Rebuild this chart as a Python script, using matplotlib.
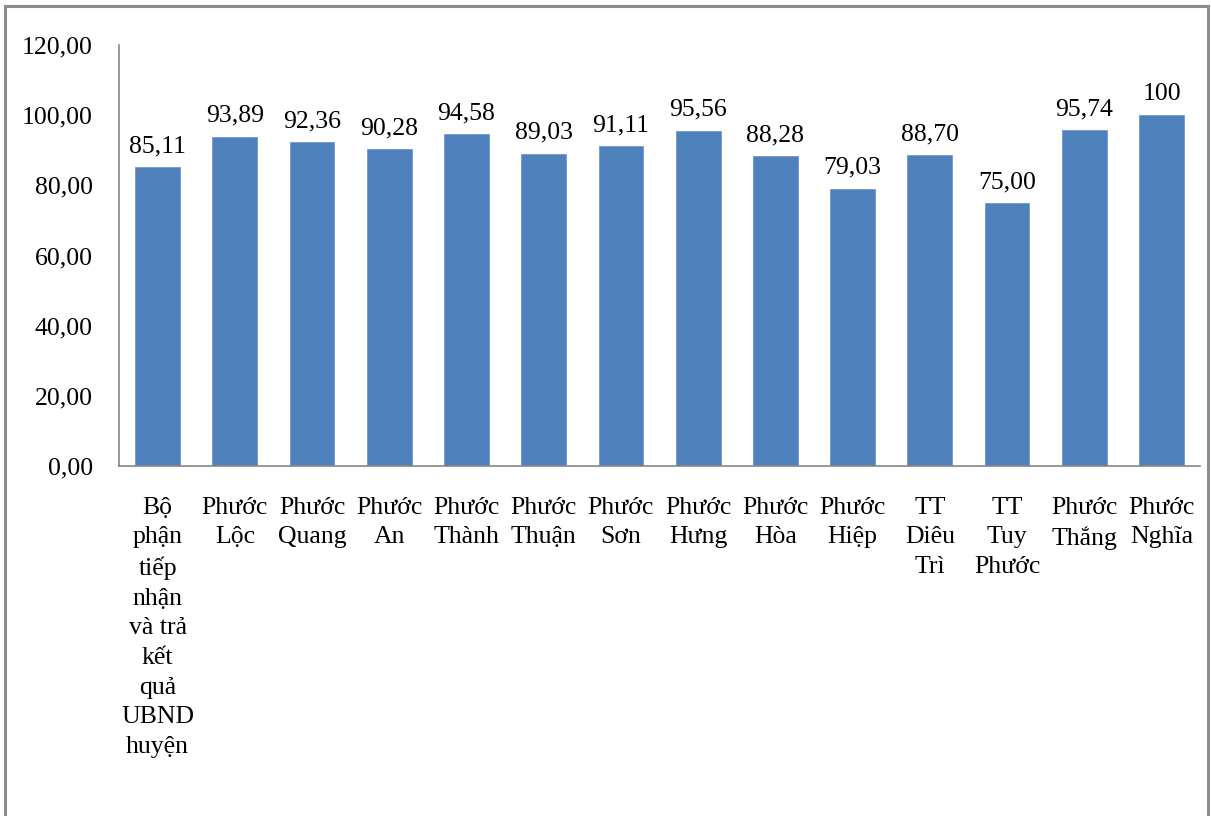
import numpy as np
import matplotlib.pyplot as plt
from matplotlib.lines import Line2D

# don vi va ty le hai long (%)
don_vi = [
    "Bộ\nphận\ntiếp\nnhận\nvà trả\nkết\nquả\nUBND\nhuyện",
    "Phước\nLộc", "Phước\nQuang", "Phước\nAn", "Phước\nThành",
    "Phước\nThuận", "Phước\nSơn", "Phước\nHưng", "Phước\nHòa",
    "Phước\nHiệp", "TT\nDiêu\nTrì", "TT\nTuy\nPhước",
    "Phước\nThắng", "Phước\nNghĩa",
]
ty_le = [85.11, 93.89, 92.36, 90.28, 94.58, 89.03, 91.11,
         95.56, 88.28, 79.03, 88.70, 75.00, 95.74, 100]
nhan = ["85,11", "93,89", "92,36", "90,28", "94,58", "89,03", "91,11",
        "95,56", "88,28", "79,03", "88,70", "75,00", "95,74", "100"]
y_ticks = [0, 20, 40, 60, 80, 100, 120]

plt.rcParams['font.family'] = ['Liberation Serif', 'DejaVu Serif']
plt.rcParams['font.size'] = 18.5

fig = plt.figure(figsize=(12.11, 8.16), dpi=100)
ax = fig.add_axes([0.0983, 0.4289, 0.8927, 0.516])

x = np.arange(len(ty_le))
ax.bar(x, ty_le, width=0.58, color='#4F81BD', edgecolor='#6F98CC', linewidth=0.6)
for xi, v, s in zip(x, ty_le, nhan):
    ax.text(xi, v + 2.8, s, ha='center', va='bottom')

ax.set_xlim(-0.5, len(ty_le) - 0.5)
ax.set_ylim(0, 120)
ax.set_yticks(y_ticks)
ax.set_yticklabels(["%d,00" % t for t in y_ticks])
ax.set_xticks(x)
ax.set_xticklabels(don_vi, linespacing=1.45)
ax.tick_params(axis='y', length=0, pad=19)
ax.tick_params(axis='x', length=0, pad=22)

for side in ['top', 'right']:
    ax.spines[side].set_visible(False)
for side in ['left', 'bottom']:
    ax.spines[side].set_color('#868686')
    ax.spines[side].set_linewidth(1.2)

# khung vien ngoai
kw = dict(color='#8C8C8C', linewidth=2.2, transform=fig.transFigure)
fig.add_artist(Line2D([0.0045, 0.0045], [-0.01, 0.9925], **kw))
fig.add_artist(Line2D([0.0045, 0.9975], [0.9925, 0.9925], **kw))
fig.add_artist(Line2D([0.9975, 0.9975], [-0.01, 0.9925], **kw))

fig.savefig('out.png', dpi=100)
